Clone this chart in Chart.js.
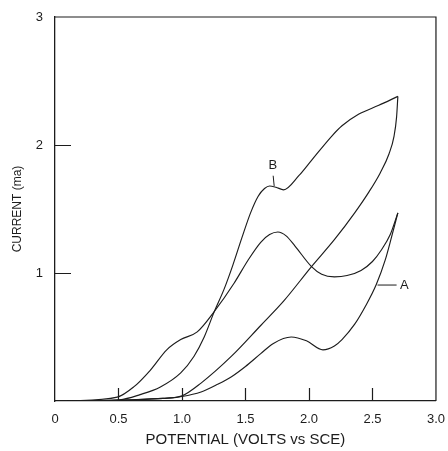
<!DOCTYPE html>
<html>
<head>
<meta charset="utf-8">
<title>Current vs potential</title>
<script src="https://cdn.jsdelivr.net/npm/chart.js@4.4.1/dist/chart.umd.min.js"></script>
<style>
  html, body { margin: 0; padding: 0; background: #fff; }
  #wrap { width: 448px; height: 451px; }
</style>
</head>
<body>
<div id="wrap"><canvas id="cv"></canvas></div>
<script>
// curve A: lower branch (small peak near 1.9 V)
const aLowerPotential = [0.10, 0.62, 0.85, 1.00, 1.15, 1.28, 1.39, 1.50, 1.62, 1.72, 1.86, 1.98, 2.11, 2.20, 2.26, 2.36, 2.45, 2.53, 2.60, 2.65, 2.70];
const aLowerCurrent = [0.00, 0.01, 0.02, 0.035, 0.07, 0.13, 0.19, 0.27, 0.37, 0.45, 0.50, 0.47, 0.40, 0.43, 0.48, 0.60, 0.75, 0.91, 1.10, 1.28, 1.47];

// curve A: upper branch (shoulder at 1.0 V, peak near 1.75 V)
const aUpperPotential = [0.10, 0.49, 0.62, 0.75, 0.88, 0.99, 1.12, 1.255, 1.41, 1.52, 1.62, 1.69, 1.755, 1.82, 1.89, 2.02, 2.10, 2.20, 2.30, 2.41, 2.50, 2.57, 2.64, 2.70];
const aUpperCurrent = [0.00, 0.03, 0.11, 0.24, 0.40, 0.48, 0.54, 0.70, 0.92, 1.10, 1.24, 1.30, 1.32, 1.29, 1.21, 1.05, 0.99, 0.97, 0.98, 1.02, 1.09, 1.18, 1.30, 1.47];

// curve B: upper branch
const bUpperPotential = [0.10, 0.51, 0.67, 0.83, 0.99, 1.095, 1.175, 1.255, 1.33, 1.40, 1.47, 1.54, 1.60, 1.65, 1.69, 1.74, 1.80, 1.92, 2.02, 2.18, 2.26, 2.39, 2.55, 2.70];
const bUpperCurrent = [0.00, 0.01, 0.05, 0.11, 0.22, 0.35, 0.50, 0.70, 0.87, 1.06, 1.27, 1.47, 1.60, 1.66, 1.68, 1.67, 1.65, 1.76, 1.88, 2.07, 2.15, 2.24, 2.31, 2.38];

// curve B: lower, nearly straight branch
const bLowerPotential = [0.10, 0.60, 0.85, 1.00, 1.15, 1.39, 1.62, 1.80, 2.02, 2.20, 2.36, 2.47, 2.56, 2.63, 2.67, 2.69, 2.70];
const bLowerCurrent = [0.00, 0.01, 0.02, 0.04, 0.14, 0.35, 0.59, 0.78, 1.05, 1.26, 1.47, 1.63, 1.78, 1.93, 2.07, 2.22, 2.38];

const xTicks = [0, 0.5, 1, 1.5, 2, 2.5, 3];
const xTickLabels = ['0', '0.5', '1.0', '1.5', '2.0', '2.5', '3.0'];
const yTicks = [1, 2, 3];
const yTickLabels = ['1', '2', '3'];

// curve labels with their leader lines, in data units
const curveNotes = [
  { text: 'B', at: [1.715, 1.84], from: [1.718, 1.76], to: [1.726, 1.68] },
  { text: 'A', at: [2.75, 0.905], from: [2.69, 0.906], to: [2.54, 0.906] },
];

const INK = '#1c1c1c';
const FONT = 'Liberation Sans, Arial, sans-serif';

const toPoints = (xs, ys) => xs.map((v, i) => ({ x: v, y: ys[i] }));

const branch = (xs, ys) => ({
  data: toPoints(xs, ys),
  showLine: true,
  borderColor: INK,
  borderWidth: 1.15,
  pointRadius: 0,
  cubicInterpolationMode: 'monotone',
});

// box, inward ticks and the A / B labels
const frameAndNotes = {
  id: 'frameAndNotes',
  afterDatasetsDraw(chart) {
    const { ctx, chartArea: a, scales: { x, y } } = chart;
    ctx.save();
    ctx.strokeStyle = INK;
    ctx.lineWidth = 1.2;
    ctx.beginPath();
    ctx.moveTo(a.left, a.top);
    ctx.lineTo(a.right, a.top);
    ctx.lineTo(a.right, a.bottom);
    x.ticks.forEach((t) => {
      if (t.value <= x.min || t.value >= x.max) return;
      const px = Math.round(x.getPixelForValue(t.value)) + 0.5;
      ctx.moveTo(px, a.bottom);
      ctx.lineTo(px, a.bottom - 13);
    });
    y.ticks.forEach((t) => {
      if (t.value <= y.min || t.value >= y.max) return;
      const py = Math.round(y.getPixelForValue(t.value)) + 0.5;
      ctx.moveTo(a.left, py);
      ctx.lineTo(a.left + 16, py);
    });
    ctx.stroke();

    ctx.lineWidth = 1;
    ctx.fillStyle = INK;
    ctx.font = '13px ' + FONT;
    ctx.textAlign = 'center';
    ctx.textBaseline = 'middle';
    curveNotes.forEach((n) => {
      ctx.beginPath();
      ctx.moveTo(x.getPixelForValue(n.from[0]), y.getPixelForValue(n.from[1]));
      ctx.lineTo(x.getPixelForValue(n.to[0]), y.getPixelForValue(n.to[1]));
      ctx.stroke();
      ctx.fillText(n.text, x.getPixelForValue(n.at[0]), y.getPixelForValue(n.at[1]));
    });
    ctx.restore();
  },
};

new Chart(document.getElementById('cv'), {
  type: 'scatter',
  data: {
    datasets: [
      branch(aLowerPotential, aLowerCurrent),
      branch(aUpperPotential, aUpperCurrent),
      branch(bUpperPotential, bUpperCurrent),
      branch(bLowerPotential, bLowerCurrent),
    ],
  },
  options: {
    responsive: true,
    maintainAspectRatio: false,
    animation: false,
    layout: { padding: { top: 17, right: 12, left: 0, bottom: 0 } },
    plugins: { legend: { display: false }, tooltip: { enabled: false } },
    scales: {
      x: {
        type: 'linear',
        min: 0,
        max: 3,
        afterBuildTicks: (scale) => { scale.ticks = xTicks.map((v) => ({ value: v })); },
        afterFit: (scale) => { scale.height = 50; },
        grid: { display: false },
        border: { display: true, color: INK, width: 1.3 },
        ticks: {
          color: INK,
          padding: 3,
          maxRotation: 0,
          font: { family: FONT, size: 13 },
          callback: (v) => xTickLabels[xTicks.indexOf(v)],
        },
        title: {
          display: true,
          text: 'POTENTIAL (VOLTS vs SCE)',
          color: INK,
          font: { family: FONT, size: 15 },
          padding: { top: 0, bottom: 2 },
        },
      },
      y: {
        type: 'linear',
        min: 0,
        max: 3,
        afterBuildTicks: (scale) => { scale.ticks = yTicks.map((v) => ({ value: v })); },
        afterFit: (scale) => { scale.width = 55; },
        grid: { display: false },
        border: { display: true, color: INK, width: 1.3 },
        ticks: {
          color: INK,
          padding: 4,
          font: { family: FONT, size: 13 },
          callback: (v) => yTickLabels[yTicks.indexOf(v)],
        },
        title: {
          display: true,
          text: 'CURRENT (ma)',
          color: INK,
          font: { family: FONT, size: 12 },
          padding: { top: 10, bottom: 0 },
        },
      },
    },
  },
  plugins: [frameAndNotes],
});
</script>
</body>
</html>
